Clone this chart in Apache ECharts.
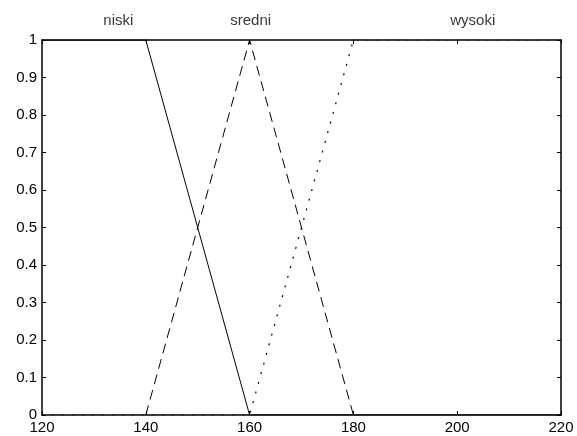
<!DOCTYPE html>
<html><head><meta charset="utf-8">
<script src="https://cdn.jsdelivr.net/npm/echarts@6/dist/echarts.min.js"></script>
<style>html,body{margin:0;padding:0;background:#fff}#c{width:577px;height:436px}</style>
</head><body><div id="c"></div>
<script>
const xTicks = [120, 140, 160, 180, 200, 220];
const niski = [[120, 1], [140, 1], [160, 0], [220, 0]];
const sredni = [[140, 0], [160, 1], [180, 0]];
const wysoki = [[120, 0], [160, 0], [180, 1], [220, 1]];
const mfNames = ['niski', 'sredni', 'wysoki'];
const mfLabelX = [134.7, 160.2, 203];

const chart = echarts.init(document.getElementById('c'));
const font = 'Liberation Sans, Arial, sans-serif';
const axBase = {
  type: 'value', z: 10,
  axisLine: {show: true, onZero: false, lineStyle: {color: '#000', width: 1.5}},
  axisTick: {show: true, inside: true, length: 4, lineStyle: {color: '#000', width: 1}},
  splitLine: {show: false}
};
chart.setOption({
  animation: false,
  backgroundColor: '#fff',
  grid: {left: 42, right: 16, top: 40, bottom: 21, containLabel: false},
  xAxis: [
    Object.assign({}, axBase, {position: 'bottom', min: xTicks[0], max: xTicks[xTicks.length-1], interval: 20,
      axisLabel: {color: '#000', fontFamily: font, fontSize: 15, margin: 5}}),
    Object.assign({}, axBase, {position: 'top', min: xTicks[0], max: xTicks[xTicks.length-1], interval: 20,
      axisLabel: {show: false}})
  ],
  yAxis: [
    Object.assign({}, axBase, {position: 'left', min: 0, max: 1, interval: 0.1,
      axisLabel: {color: '#000', fontFamily: font, fontSize: 15, margin: 5}}),
    Object.assign({}, axBase, {position: 'right', min: 0, max: 1, interval: 0.1,
      axisLabel: {show: false}})
  ],
  series: [
    {type: 'line', data: niski, symbol: 'none', lineStyle: {color: '#000', width: 1}, z: 1},
    {type: 'line', data: sredni, symbol: 'none', lineStyle: {color: '#000', width: 1, type: [10, 6]}, z: 1},
    {type: 'line', data: wysoki, symbol: 'none', lineStyle: {color: '#000', width: 1.2, type: [2, 8]}, z: 1},
    {type: 'scatter', symbolSize: 0, data: mfLabelX.map((x, i) => ({value: [x, 1], name: mfNames[i]})),
      label: {show: true, position: 'top', distance: 12, formatter: p => p.name, color: '#000', fontFamily: font, fontSize: 15}}
  ]
});
</script></body></html>
